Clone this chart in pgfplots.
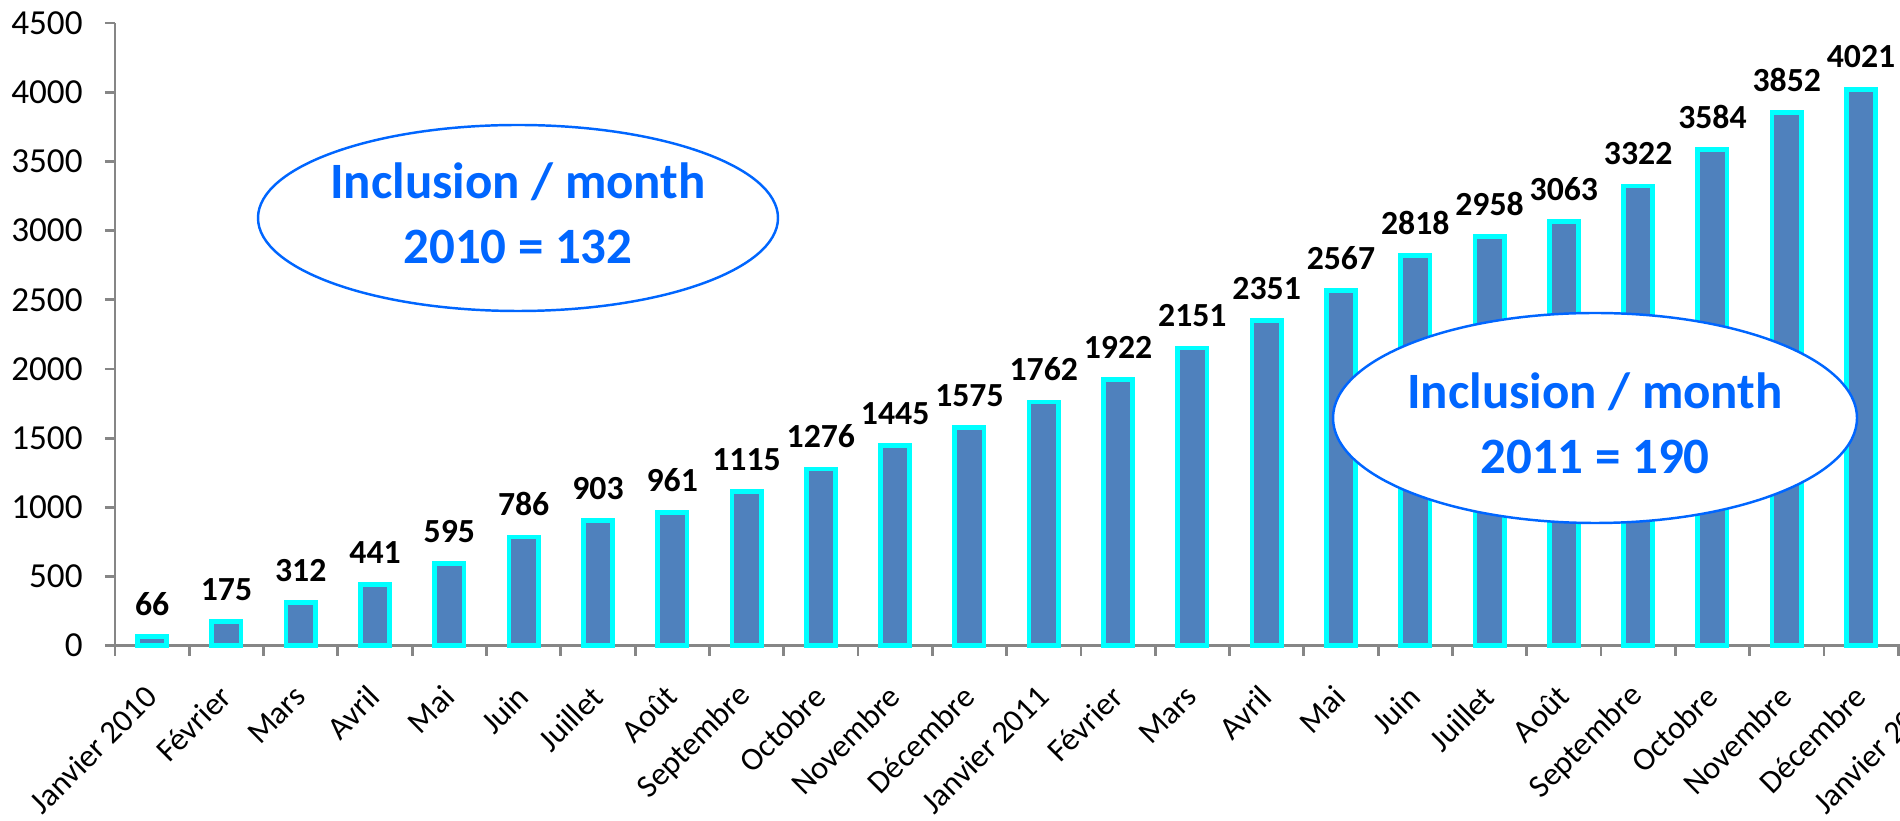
\documentclass[border=0pt]{standalone}
\usepackage{fontspec}
\setmainfont{Carlito}
\usepackage{pgfplots}
\pgfplotsset{compat=1.18}
\definecolor{barfill}{RGB}{79,129,189}
\definecolor{barline}{RGB}{0,255,255}
\definecolor{ellblue}{RGB}{0,102,255}
\definecolor{axgray}{RGB}{134,134,134}
\begin{document}
\begin{tikzpicture}[x=1cm,y=1cm]
\useasboundingbox (0,0) rectangle (19,8.2);
\clip (0,0) rectangle (19,8.2);
\begin{axis}[
  at={(1.15cm,1.743cm)}, anchor=south west,
  scale only axis, width=18.575cm, height=6.227cm,
  ymin=0, ymax=4500, ytick={0,500,...,4500},
  xmin=-0.5, xmax=24.5,
  xtick={0,...,24},
  xticklabels={Janvier 2010, Février, Mars, Avril, Mai, Juin, Juillet, Août, Septembre, Octobre, Novembre, Décembre, Janvier 2011, Février, Mars, Avril, Mai, Juin, Juillet, Août, Septembre, Octobre, Novembre, Décembre, Janvier 2012},
  minor xtick={-0.5,0.5,...,24.5},
  axis x line*=bottom, axis y line*=left,
  axis line style={-, axgray, line width=0.8pt},
  tick align=outside,
  major tick length=0.1cm, minor tick length=0.1cm,
  major x tick style={draw=none},
  every tick/.style={axgray, line width=0.8pt},
  /pgf/number format/assume math mode=true,
  /pgf/number format/1000 sep={},
  yticklabel style={font=\fontsize{10}{12}\selectfont, xshift=-0.1cm},
  xticklabel style={font=\fontsize{9.2}{11}\selectfont, xshift=0.08cm, yshift=-0.27cm, rotate=45, anchor=east},
  ybar, bar width=0.293cm,
  nodes near coords,
  every node near coord/.append style={font=\bfseries\fontsize{9.6}{11}\selectfont, black, yshift=2pt},
  clip=false,
]
\addplot[fill=barfill, draw=barline, line width=1.35pt] coordinates {
(0,66) (1,175) (2,312) (3,441) (4,595) (5,786) (6,903) (7,961) (8,1115) (9,1276) (10,1445) (11,1575)
(12,1762) (13,1922) (14,2151) (15,2351) (16,2567) (17,2818) (18,2958) (19,3063) (20,3322) (21,3584) (22,3852) (23,4021)
};
\end{axis}
\draw[ellblue, line width=0.7pt, fill=white] (5.18,6.02) ellipse (2.60 and 0.93);
\node[align=center, text=ellblue, font=\bfseries\fontsize{14.5}{18.4}\selectfont] at (5.18,6.07) {Inclusion / month\\2010 = 132};
\draw[ellblue, line width=0.7pt, fill=white] (15.95,4.02) ellipse (2.62 and 1.05);
\node[align=center, text=ellblue, font=\bfseries\fontsize{14.5}{18.4}\selectfont] at (15.95,3.97) {Inclusion / month\\2011 = 190};
\end{tikzpicture}
\end{document}
